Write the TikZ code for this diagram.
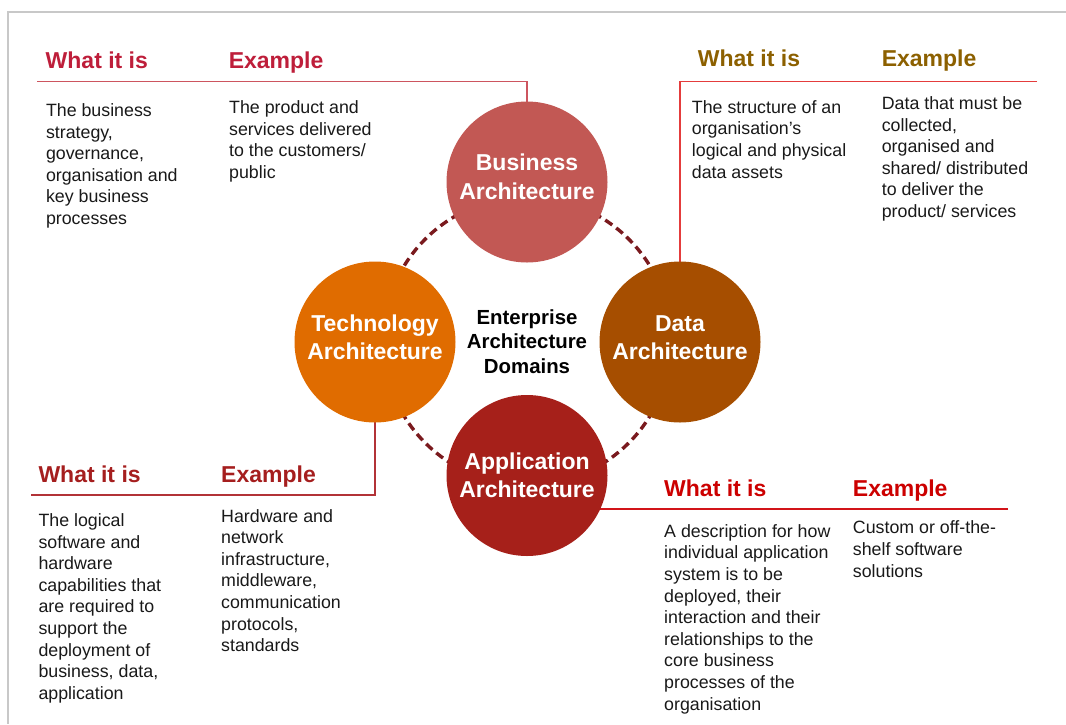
\documentclass[tikz,border=0pt]{standalone}
\usepackage{fontspec}
\setmainfont{Liberation Sans}
\usetikzlibrary{backgrounds}
\definecolor{bizc}{RGB}{194,88,84}
\definecolor{techc}{RGB}{224,108,0}
\definecolor{datac}{RGB}{166,78,0}
\definecolor{appc}{RGB}{166,32,26}
\definecolor{ringc}{RGB}{122,26,30}
\definecolor{hTL}{RGB}{190,30,58}
\definecolor{hTR}{RGB}{140,96,0}
\definecolor{hBL}{RGB}{165,30,30}
\definecolor{hBR}{RGB}{204,0,0}
\definecolor{lTL}{RGB}{205,85,95}
\definecolor{lTR}{RGB}{228,60,60}
\definecolor{lBL}{RGB}{178,50,55}
\definecolor{lBR}{RGB}{210,20,25}
\definecolor{bodyc}{RGB}{25,25,25}
\definecolor{framec}{RGB}{200,200,200}
\begin{document}
\begin{tikzpicture}[x=1pt,y=-1pt,
  domcirc/.style={circle, minimum size=161pt, inner sep=0pt, draw=none},
  domlabel/.style={anchor=base, inner sep=0pt, align=center, text=white,
    font=\bfseries\fontsize{23}{28.2}\selectfont},
  centerlabel/.style={anchor=base, inner sep=0pt, align=center, text=black,
    font=\bfseries\fontsize{20.4}{24.5}\selectfont},
  hdr/.style={anchor=base west, inner sep=0pt, font=\bfseries\fontsize{23}{27}\selectfont},
  bodytxt/.style={anchor=base west, inner sep=0pt, align=left, text=bodyc,
    font=\fontsize{17.8}{21.6}\selectfont},
  linkline/.style={line width=1.4pt}
]
\useasboundingbox (0,0) rectangle (1066,724);

% frame
\coordinate (frTR) at (1066,12);
\coordinate (frTL) at (8,12);
\coordinate (frBL) at (8,724);
\draw[framec, line width=2pt] (frTR) -- (frTL) -- (frBL);

% domain circles
\node[domcirc, fill=bizc]  (biz)  at (527,182) {};
\node[domcirc, fill=techc] (tech) at (375,342) {};
\node[domcirc, fill=datac] (data) at (680,342) {};
\node[domcirc, fill=appc]  (app)  at (527,475.5) {};

% (multi-line nodes: base = baseline of the last line)
\node[domlabel] (bizl)  at (527,199) {Business\\Architecture};
\node[domlabel] (techl) at (375,359.3) {Technology\\Architecture};
\node[domlabel] (datal) at (680,359.3) {Data\\Architecture};
\node[domlabel] (appl)  at (527,497.3) {Application\\Architecture};
\node[centerlabel] (ctr) at (527,373.3) {Enterprise\\Architecture\\Domains};

% background: ring and connector lines
\coordinate (tlL) at (37,81.5);
\coordinate (trR) at (1037,81.5);
\coordinate (blL) at (31,495);
\coordinate (brR) at (1008,509);
\begin{scope}[on background layer]
  \node[circle, minimum size=288pt, inner sep=0pt, draw=ringc, line width=3.4pt,
        dash pattern=on 8.5pt off 5pt] (ring) at (527,341) {};
  \draw[lTL, linkline] (tlL) -| (biz.center);
  \draw[lTR, line width=1.1pt] (trR) -| (data.center);
  \draw[lBL, linkline] (blL) -| (tech.center);
  \draw[lBR, line width=1.8pt] (brR) -- (app.center |- brR);
\end{scope}

% top-left: business
\node[hdr, text=hTL] (tlw) at (45.5,68) {What it is};
\node[hdr, text=hTL] (tle) at (228.6,68) {Example};
\node[bodytxt] (tlwb) at (45.8,224.5) {The business\\strategy,\\governance,\\organisation and\\key business\\processes};
\node[bodytxt] (tleb) at (229,178.5) {The product and\\services delivered\\to the customers/\\public};

% top-right: data
\node[hdr, text=hTR] (trw) at (697.7,66) {What it is};
\node[hdr, text=hTR] (tre) at (881.6,66) {Example};
\node[bodytxt] (trwb) at (691.7,178) {The structure of an\\organisation's\\logical and physical\\data assets};
\node[bodytxt] (treb) at (881.6,217.4) {Data that must be\\collected,\\organised and\\shared/ distributed\\to deliver the\\product/ services};

% bottom-left: technology
\node[hdr, text=hBL] (blw) at (38.3,482.7) {What it is};
\node[hdr, text=hBL] (ble) at (221,482.7) {Example};
\node[bodytxt] (blwb) at (38.3,699.3) {The logical\\software and\\hardware\\capabilities that\\are required to\\support the\\deployment of\\business, data,\\application};
\node[bodytxt] (bleb) at (221,651.7) {Hardware and\\network\\infrastructure,\\middleware,\\communication\\protocols,\\standards};

% bottom-right: application
\node[hdr, text=hBR] (brw) at (664,496) {What it is};
\node[hdr, text=hBR] (bre) at (852.7,496) {Example};
\node[bodytxt] (brwb) at (664,710) {A description for how\\individual application\\system is to be\\deployed, their\\interaction and their\\relationships to the\\core business\\processes of the\\organisation};
\node[bodytxt] (breb) at (852.7,577) {Custom or off-the-\\shelf software\\solutions};
\end{tikzpicture}
\end{document}
